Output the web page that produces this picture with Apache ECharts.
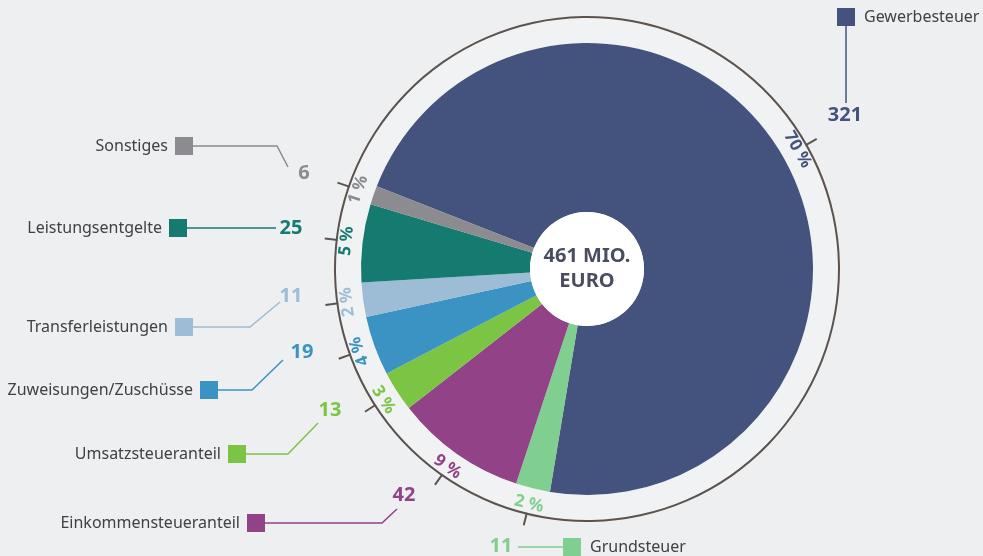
<!DOCTYPE html>
<html><head><meta charset="utf-8">
<script src="https://cdn.jsdelivr.net/npm/echarts@6/dist/echarts.min.js"></script>
<style>html,body{margin:0;padding:0;background:#eeeff1}#c{width:983px;height:556px}</style>
</head><body><div id="c"></div>
<script>
// ---- data ----
const categories = ['Gewerbesteuer','Grundsteuer','Einkommensteueranteil','Umsatzsteueranteil','Zuweisungen/Zuschüsse','Transferleistungen','Leistungsentgelte','Sonstiges'];
const values = [321, 11, 42, 13, 19, 11, 25, 6];
const percentLabels = ['70 %','2 %','9 %','3 %','4 %','2 %','5 %','1 %'];
const totalLabel = '461 MIO.\nEURO';

// ---- styles / layout ----
const colors = ['#44527e','#80cf90','#924286','#7cc444','#3b93c3','#9cbdd5','#157a70','#8b8b90'];
const CENTER = [587, 269];
const START = 158.5;
const FONT = '"Noto Sans", "Open Sans", sans-serif';
const RING = '#5b534e';
const SQ = 18;
// labels on the left just below the horizontal keep reading upwards
const noFlip = [false, false, false, false, true, true, false, false];
// value label centres
const valuePos = [[845,115],[501,546],[404,495],[330,410],[302,352],[291,296],[291,228],[304,173]];
// callout: side, square edge x, square centre y, leader line
const callouts = [
  {side:'right', x:837, y:17,  line:[[846,26],[846,103]]},
  {side:'right', x:563, y:547, line:[[518,547],[563,547]]},
  {side:'left',  x:265, y:523, line:[[265,523],[382,523],[397,509]]},
  {side:'left',  x:246, y:454, line:[[246,454],[288,454],[318,423]]},
  {side:'left',  x:218, y:390, line:[[218,390],[252,390],[283,360]]},
  {side:'left',  x:193, y:327, line:[[193,327],[250,327],[280,302]]},
  {side:'left',  x:187, y:228, line:[[187,228],[276,228]]},
  {side:'left',  x:193, y:146, line:[[193,146],[277,146],[288,167]]}
];

const sum = values.reduce((a,b)=>a+b,0);
function midAngle(i){
  let before = 0;
  for (let k=0;k<i;k++) before += values[k];
  return START - 360*(before + values[i]/2)/sum;
}

const chart = echarts.init(document.getElementById('c'));
const base = {type:'pie', center:CENTER, startAngle:START, clockwise:true, silent:true, avoidLabelOverlap:false};

const option = {
  backgroundColor:'#eeeff1',
  animation:false,
  series:[
    Object.assign({}, base, {
      radius:[57,226],
      label:{show:false}, labelLine:{show:false},
      data: categories.map((n,i)=>({name:n, value:values[i], itemStyle:{color:colors[i]}}))
    }),
    // centre disc
    Object.assign({}, base, {
      radius:[0,57],
      itemStyle:{color:'#ffffff'},
      label:{show:true, position:'center', formatter: totalLabel, fontFamily:FONT, fontWeight:'bold', fontSize:20, lineHeight:25, color:'#4a4c60'},
      labelLine:{show:false},
      data:[{value:1, name:'total'}]
    }),
    // percentage ring
    Object.assign({}, base, {
      radius:[226,252],
      itemStyle:{color:'rgba(255,255,255,0.2)'},
      label:{show:true, position:'inside', rotate:'tangential', fontFamily:FONT, fontWeight:'bold', fontSize:17,
        formatter: p => percentLabels[p.dataIndex]},
      labelLine:{show:false},
      data: categories.map((n,i)=>{
        const lab = {color:colors[i]};
        if (noFlip[i]) lab.rotate = ((midAngle(i) % 360) + 360) % 360 - 90;
        return {name:n, value:values[i], label:lab};
      })
    }),
    // outer ring line
    Object.assign({}, base, {
      radius:[251,253],
      itemStyle:{color:RING},
      label:{show:false}, labelLine:{show:false},
      data:[{value:1, name:'ring'}]
    }),
    // ticks + values
    Object.assign({}, base, {
      radius:[0,251],
      itemStyle:{color:'transparent'},
      label:{show:true, position:'outside', fontFamily:FONT, fontWeight:'bold', fontSize:20,
        formatter: p => String(values[p.dataIndex])},
      labelLine:{show:true, length:13, length2:0, lineStyle:{color:RING, width:2}},
      labelLayout: p => ({x:valuePos[p.dataIndex][0], y:valuePos[p.dataIndex][1], align:'center', verticalAlign:'middle', labelLinePoints:p.labelLinePoints}),
      data: categories.map((n,i)=>({name:n, value:values[i], label:{color:colors[i]}}))
    }),
    // callouts with squares and names
    Object.assign({}, base, {
      radius:[0,251],
      itemStyle:{color:'transparent'},
      label:{show:true, position:'outside',
        formatter: p => callouts[p.dataIndex].side === 'left' ? '{n|' + categories[p.dataIndex] + '}{sq' + p.dataIndex + '|}' : '{sq' + p.dataIndex + '|}{n|' + categories[p.dataIndex] + '}',
        rich: Object.assign({
          n:{fontFamily:FONT, fontSize:16, color:'#404045', padding:[0,7,0,9]}
        }, Object.fromEntries(colors.map((c,i)=>['sq'+i, {width:SQ, height:SQ, backgroundColor:c}])))
      },
      labelLine:{show:true, length:5, length2:5},
      labelLayout: p => {
        const c = callouts[p.dataIndex];
        return {x:c.x, y:c.y, align: c.side === 'left' ? 'right' : 'left', verticalAlign:'middle', labelLinePoints:c.line};
      },
      data: categories.map((n,i)=>({name:n, value:values[i], labelLine:{lineStyle:{color:colors[i], width:1.5}}}))
    })
  ]
};
chart.setOption(option);
</script></body></html>
